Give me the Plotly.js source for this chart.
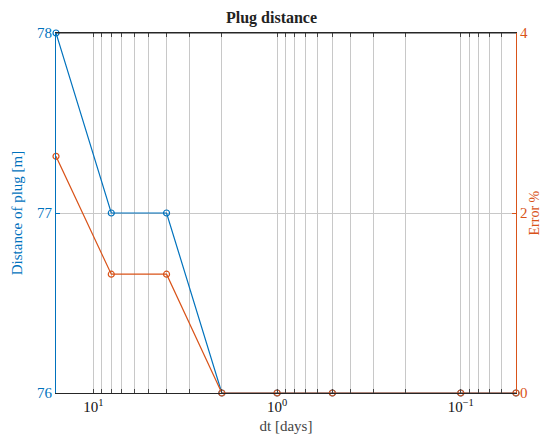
<!DOCTYPE html>
<html>
<head>
<meta charset="utf-8">
<script src="https://cdn.plot.ly/plotly-3.0.1.min.js"></script>
<style>html,body{margin:0;padding:0;background:#fff;}#chart{width:543px;height:436px;}</style>
</head>
<body>
<div id="chart"></div>
<script>
const dt = [16, 8, 4, 2, 1, 0.5, 0.1, 0.05];
const distance = [78, 77, 77, 76, 76, 76, 76, 76];
const errorPct = [2.63, 1.32, 1.32, 0, 0, 0, 0, 0];
const leftTicks = [76, 77, 78];
const rightTicks = [0, 2, 4];
const decadeVals = [0.1, 1, 10];
const decadeText = ['10<sup>\u22121</sup>', '10<sup>0</sup>', '10<sup>1</sup>'];

const blue = '#0072BD', orange = '#D95319';
const font = 'Liberation Serif, DejaVu Serif, serif';

const xTickVals = [], xTickText = [];
for (let e = -2; e <= 1; e++) {
  for (let m = 1; m <= 9; m++) {
    const v = m * Math.pow(10, e);
    xTickVals.push(v);
    const idx = decadeVals.findIndex(d => Math.abs(d - v) < 1e-9);
    xTickText.push(idx >= 0 ? decadeText[idx] : '');
  }
}

const traces = [
  {x: dt, y: distance, type: 'scatter', mode: 'lines+markers', cliponaxis: false,
   line: {color: blue, width: 1.2},
   marker: {symbol: 'circle-open', size: 6, color: blue, line: {width: 1.2}},
   yaxis: 'y', showlegend: false},
  {x: dt, y: errorPct, type: 'scatter', mode: 'lines+markers', cliponaxis: false,
   line: {color: orange, width: 1.2},
   marker: {symbol: 'circle-open', size: 6, color: orange, line: {width: 1.2}},
   yaxis: 'y2', showlegend: false}
];

const layout = {
  width: 543, height: 436,
  margin: {l: 56, r: 27, t: 33, b: 43},
  paper_bgcolor: '#fff', plot_bgcolor: '#fff',
  font: {family: font, size: 15, color: '#222'},
  title: {text: '<b>Plug distance</b>', x: 0.5, xanchor: 'center', y: 1, yref: 'paper', yanchor: 'bottom', pad: {b: 10},
          font: {family: font, size: 16, color: '#222'}},
  xaxis: {type: 'log', range: [Math.log10(16), Math.log10(0.05)],
          tickvals: xTickVals, ticktext: xTickText, tickangle: 0,
          ticks: 'inside', ticklen: 4, tickcolor: '#444', mirror: 'ticks',
          showline: true, linecolor: '#262626', linewidth: 1,
          showgrid: true, gridcolor: '#c8c8c8', gridwidth: 1, zeroline: false,
          tickfont: {family: font, size: 15, color: '#111'},
          title: {text: 'dt [days]', standoff: 6, font: {family: font, size: 15, color: '#444'}}},
  yaxis: {range: [76, 78], tickvals: leftTicks, ticks: 'inside', ticklen: 4, tickcolor: blue,
          showline: true, linecolor: blue, linewidth: 1,
          showgrid: true, gridcolor: '#c8c8c8', zeroline: false,
          tickfont: {family: font, size: 15, color: blue},
          title: {text: 'Distance of plug [m]', standoff: 10, font: {family: font, size: 15, color: blue}}},
  yaxis2: {range: [0, 4], tickvals: rightTicks, overlaying: 'y', side: 'right',
          ticks: 'inside', ticklen: 4, tickcolor: orange,
          showline: true, linecolor: orange, linewidth: 1,
          showgrid: false, zeroline: false,
          tickfont: {family: font, size: 15, color: orange}},
  annotations: [{text: 'Error %', xref: 'paper', yref: 'paper', x: 1, y: 0.5, xanchor: 'right', yanchor: 'middle',
                 xshift: 27, textangle: -90, showarrow: false, font: {family: font, size: 14, color: orange}}],
  shapes: [{type: 'line', xref: 'paper', yref: 'paper', x0: 0, x1: 1, y0: 1, y1: 1, line: {color: '#262626', width: 1}}]
};

Plotly.newPlot('chart', traces, layout, {displayModeBar: false, staticPlot: true});
</script>
</body>
</html>
